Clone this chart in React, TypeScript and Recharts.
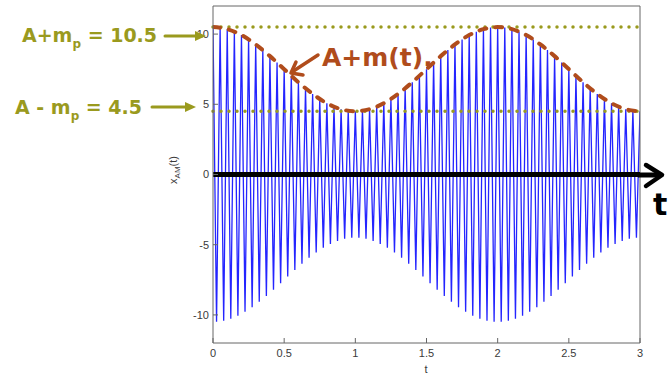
import React from "react";
import { LineChart, Line, XAxis, YAxis, ReferenceLine } from "recharts";

// AM signal sampled at every carrier peak/trough (dt = 0.025 s)
const SAMPLE_STEP = 0.025;
const signal = [
  10.5, -10.49, 10.46, -10.42, 10.35, -10.27, 10.17, -10.06, 9.93, -9.78,
  9.62, -9.45, 9.26, -9.07, 8.86, -8.65, 8.43, -8.2, 7.97, -7.74,
  7.5, -7.26, 7.03, -6.8, 6.57, -6.35, 6.14, -5.93, 5.74, -5.55,
  5.38, -5.22, 5.07, -4.94, 4.83, -4.73, 4.65, -4.58, 4.54, -4.51,
  4.5, -4.51, 4.54, -4.58, 4.65, -4.73, 4.83, -4.94, 5.07, -5.22,
  5.38, -5.55, 5.74, -5.93, 6.14, -6.35, 6.57, -6.8, 7.03, -7.26,
  7.5, -7.74, 7.97, -8.2, 8.43, -8.65, 8.86, -9.07, 9.26, -9.45,
  9.62, -9.78, 9.93, -10.06, 10.17, -10.27, 10.35, -10.42, 10.46, -10.49,
  10.5, -10.49, 10.46, -10.42, 10.35, -10.27, 10.17, -10.06, 9.93, -9.78,
  9.62, -9.45, 9.26, -9.07, 8.86, -8.65, 8.43, -8.2, 7.97, -7.74,
  7.5, -7.26, 7.03, -6.8, 6.57, -6.35, 6.14, -5.93, 5.74, -5.55,
  5.38, -5.22, 5.07, -4.94, 4.83, -4.73, 4.65, -4.58, 4.54, -4.51,
  4.5,
];

// hand-drawn envelope A + m(t)
const envTimes = [
  0, 0.1, 0.2, 0.3, 0.4, 0.5, 0.6, 0.7, 0.8, 0.9, 1, 1.1, 1.2, 1.3, 1.4, 1.5,
  1.6, 1.7, 1.8, 1.9, 2, 2.1, 2.2, 2.3, 2.4, 2.5, 2.6, 2.7, 2.8, 2.9, 3,
];
const envValues = [
  10.5, 10.35, 9.93, 9.26, 8.43, 7.5, 6.57, 5.74, 5.07, 4.65, 4.5, 4.65, 5.07,
  5.74, 6.57, 7.5, 8.43, 9.26, 9.93, 10.35, 10.5, 10.35, 9.93, 9.26, 8.43, 7.5,
  6.57, 5.74, 5.07, 4.65, 4.5,
];

const xTicks = [0, 0.5, 1, 1.5, 2, 2.5, 3];
const yTicks = [-10, -5, 0, 5, 10];
const A_PLUS_MP = 10.5;
const A_MINUS_MP = 4.5;

const signalData = signal.map((v, i) => ({ t: +(i * SAMPLE_STEP).toFixed(3), x: v }));
const envData = envTimes.map((t, i) => ({ t, env: envValues[i] }));

const OLIVE = "#9a9a1e";
const RUST = "#b04c1c";
const AXIS = "#666";
const TICK_TXT = "#3a3a3a";
const HAND = "'DejaVu Sans', sans-serif";

// eslint-disable-next-line @typescript-eslint/no-explicit-any
function YTick({ x, y, payload }: any) {
  return (
    <g>
      <text x={x} y={y} dy="0.35em" textAnchor="end" fontSize={11} fill={TICK_TXT} fontFamily="'Liberation Sans', Arial, sans-serif">
        {payload.value}
      </text>
      <line x1={x + 4} x2={x + 9} y1={y} y2={y} stroke={AXIS} />
    </g>
  );
}

// eslint-disable-next-line @typescript-eslint/no-explicit-any
function XTick({ x, y, payload }: any) {
  return (
    <g>
      <text x={x} y={y} dy="0.8em" textAnchor="middle" fontSize={11} fill={TICK_TXT} fontFamily="'Liberation Sans', Arial, sans-serif">
        {payload.value}
      </text>
      <line x1={x} x2={x} y1={y - 5} y2={y - 10} stroke={AXIS} />
    </g>
  );
}

export default function App() {
  return (
    <div style={{ position: "absolute", left: 0, top: 0, width: 671, height: 377, background: "#fff" }}>
      <LineChart width={671} height={377} margin={{ top: 6, right: 31, bottom: 0, left: 0 }}>
        <XAxis
          type="number"
          dataKey="t"
          domain={[0, 3]}
          ticks={xTicks}
          allowDataOverflow
          height={34}
          tick={<XTick />}
          tickLine={false}
          tickSize={0}
          tickMargin={5}
          axisLine={{ stroke: AXIS }}
        />
        <YAxis
          type="number"
          domain={[-12, 12]}
          ticks={yTicks}
          width={213}
          tick={<YTick />}
          tickLine={false}
          tickSize={0}
          tickMargin={4}
          axisLine={{ stroke: AXIS }}
        />
        <Line
          data={signalData}
          dataKey="x"
          type="linear"
          stroke="#2424ff"
          strokeWidth={1.3}
          dot={false}
          isAnimationActive={false}
        />
        <ReferenceLine y={12} stroke={AXIS} />
        <ReferenceLine x={3} stroke={AXIS} />
        <ReferenceLine
          y={A_PLUS_MP}
          stroke={OLIVE}
          strokeWidth={3.5}
          strokeDasharray="0 8"
          strokeLinecap="round"
        />
        <ReferenceLine
          y={A_MINUS_MP}
          stroke={OLIVE}
          strokeWidth={3.5}
          strokeDasharray="0 8"
          strokeLinecap="round"
        />
        <Line
          data={envData}
          dataKey="env"
          type="monotone"
          stroke={RUST}
          strokeWidth={4}
          strokeDasharray="7 9"
          strokeLinecap="round"
          dot={false}
          isAnimationActive={false}
        />
        <ReferenceLine y={0} stroke="#000" strokeWidth={5} />
      </LineChart>

      <svg
        width={671}
        height={377}
        style={{ position: "absolute", left: 0, top: 0, pointerEvents: "none" }}
      >
        {/* olive annotations */}
        <text x={22} y={42} fontSize={19} fontWeight="bold" fill={OLIVE} fontFamily={HAND}>
          A+m<tspan dy={6} fontSize={12}>p</tspan>
          <tspan dy={-6}> = 10.5</tspan>
        </text>
        <line x1={165} y1={36} x2={198} y2={36} stroke={OLIVE} strokeWidth={3} strokeLinecap="round" />
        <polygon points="206,36 195,31 195,41" fill={OLIVE} />

        <text x={15} y={114} fontSize={19} fontWeight="bold" fill={OLIVE} fontFamily={HAND}>
          A - m<tspan dy={6} fontSize={12}>p</tspan>
          <tspan dy={-6}> = 4.5</tspan>
        </text>
        <line x1={152} y1={107} x2={188} y2={107} stroke={OLIVE} strokeWidth={3} strokeLinecap="round" />
        <polygon points="196,107 185,102 185,112" fill={OLIVE} />

        {/* envelope label */}
        <text x={322} y={66} fontSize={25} fontWeight="bold" fill={RUST} fontFamily={HAND}>
          A+m(t).
        </text>
        <line x1={318} y1={55} x2={292} y2={72} stroke={RUST} strokeWidth={3.5} strokeLinecap="round" />
        <polyline points="296,62 291,73 303,75" fill="none" stroke={RUST} strokeWidth={3.5} strokeLinecap="round" strokeLinejoin="round" />

        {/* time axis arrow */}
        <line x1={638} y1={175} x2={660} y2={175} stroke="#000" strokeWidth={5} />
        <polyline points="646,165 662,175 646,186" fill="none" stroke="#000" strokeWidth={4.5} strokeLinecap="round" strokeLinejoin="round" />
        <text x={653} y={215} fontSize={30} fontWeight="bold" fill="#000" fontFamily={HAND}>
          t
        </text>

        {/* axis labels */}
        <text x={426} y={373} fontSize={11} textAnchor="middle" fill={TICK_TXT} fontFamily="'Liberation Sans', Arial, sans-serif">
          t
        </text>
        <text
          transform="translate(177,170) rotate(-90)"
          fontSize={11}
          textAnchor="middle"
          fill={TICK_TXT}
          fontFamily="'Liberation Sans', Arial, sans-serif"
        >
          x<tspan dy={3} fontSize={8}>AM</tspan>
          <tspan dy={-3}>(t)</tspan>
        </text>
      </svg>
    </div>
  );
}
